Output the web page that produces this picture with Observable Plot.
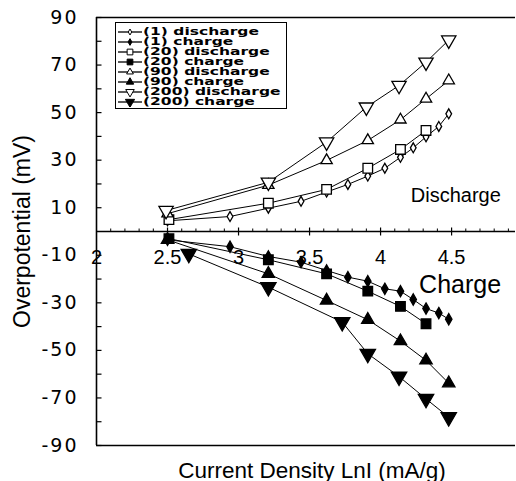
<!DOCTYPE html>
<html><head><meta charset="utf-8">
<script src="https://cdn.jsdelivr.net/npm/d3@7"></script>
<script src="https://cdn.jsdelivr.net/npm/@observablehq/plot@0.6"></script>
<style>
body{margin:0;background:#fff;}
#wrap{position:relative;width:516px;height:481px;}
g[aria-label="y-axis tick label"] text{font-family:"DejaVu Sans";letter-spacing:2px;}
#legend{position:absolute;left:115px;top:22px;width:172px;height:87px;border:1.5px solid #000;background:#fff;box-sizing:border-box;padding-top:4px;}
.row{height:10px;display:flex;align-items:center;white-space:nowrap;overflow:visible;}
.row svg{flex:none;margin-left:2px;}
.row span{font:bold 10px "DejaVu Sans";transform:scaleX(1.55);transform-origin:left center;display:inline-block;line-height:10px;}
</style></head>
<body><div id="wrap"></div>
<script>
// ---- data ----
const lnI_1   = [2.5, 2.94, 3.21, 3.44, 3.62, 3.77, 3.91, 4.03, 4.14, 4.23, 4.32, 4.41, 4.48];
const dis_1   = [4.5, 6.3, 9.8, 12.7, 16.6, 19.8, 23.3, 26.6, 31.2, 35.2, 39.8, 44.2, 49.5];
const chg_1   = [-3.5, -6.4, -10.5, -12.9, -16.4, -19.2, -20.9, -24.1, -25.1, -28.6, -32.4, -34.3, -36.9];

const lnI_20  = [2.51, 3.21, 3.62, 3.91, 4.14, 4.32];
const dis_20  = [5.0, 11.9, 17.7, 26.6, 34.5, 42.5];
const chg_20  = [-3.0, -11.9, -17.8, -25.1, -31.5, -38.8];

const lnI_90  = [2.5, 3.21, 3.62, 3.91, 4.14, 4.32, 4.48];
const dis_90  = [7.5, 19.5, 29.9, 38.3, 47.0, 55.8, 63.5];
const chg_90  = [-3.5, -17.8, -29.0, -37.1, -46.1, -54.2, -63.8];

const lnI_200d = [2.49, 3.21, 3.62, 3.90, 4.13, 4.32, 4.48];
const dis_200  = [8.8, 20.7, 37.6, 52.3, 61.4, 71.2, 80.5];
const lnI_200c = [2.65, 3.21, 3.73, 3.91, 4.13, 4.32, 4.48];
const chg_200  = [-9.4, -23.4, -38.1, -51.4, -61.0, -70.4, -78.1];

const legendNames = ["(1) discharge","(1) charge","(20) discharge","(20) charge",
                     "(90) discharge","(90) charge","(200) discharge","(200) charge"];
const xDomain = [2, 4.95];
const yDomain = [-90, 90];
const xTickLabels = [2, 2.5, 3, 3.5, 4, 4.5];
const xMajorTicks = [2.5, 3, 3.5, 4, 4.5];
const xMinorTicks = [2.1,2.2,2.3,2.4,2.6,2.7,2.8,2.9,3.1,3.2,3.3,3.4,3.6,3.7,3.8,3.9,4.1,4.2,4.3,4.4,4.6,4.7,4.8,4.9];
const yTickLabels = [90, 70, 50, 30, 10, -10, -30, -50, -70, -90];
const yTicks = [90,80,70,60,50,40,30,20,10,-10,-20,-30,-40,-50,-60,-70,-80,-90];
const xLabel = "Current Density LnI (mA/g)";
const yLabel = "Overpotential (mV)";
const noteDischarge = [{x: 4.53, y: 12.3, text: "Discharge"}];
const noteCharge = [{x: 4.56, y: -26, text: "Charge"}];

// ---- styles ----
const styles = [
  {symbol: "diamond",  fill: "white", r: 3.0, rotate: 0},
  {symbol: "diamond",  fill: "black", r: 3.4, rotate: 0},
  {symbol: "square",   fill: "white", r: 5.4, rotate: 0},
  {symbol: "square",   fill: "black", r: 5.4, rotate: 0},
  {symbol: "triangle", fill: "white", r: 4.2, rotate: 0},
  {symbol: "triangle", fill: "black", r: 4.6, rotate: 0},
  {symbol: "triangle", fill: "white", r: 5.3, rotate: 180},
  {symbol: "triangle", fill: "black", r: 5.7, rotate: 180}
];
const seriesData = [
  [lnI_1, dis_1], [lnI_1, chg_1], [lnI_20, dis_20], [lnI_20, chg_20],
  [lnI_90, dis_90], [lnI_90, chg_90], [lnI_200d, dis_200], [lnI_200c, chg_200]
];
const rowsOf = ([xs, ys]) => xs.map((x, i) => ({x, y: ys[i]}));

const tickCross = {draw(c){c.moveTo(0,-4);c.lineTo(0,4);}};
const tickUp = {draw(c){c.moveTo(0,-3);c.lineTo(0,0);}};
const tickRight = {draw(c){c.moveTo(0,0);c.lineTo(5,0);}};

const marks = [
  Plot.ruleY([yDomain[0], yDomain[1]], {stroke: "black", strokeWidth: 1.6}),
  Plot.ruleX([xDomain[0]], {stroke: "black", strokeWidth: 1.6}),
  Plot.ruleY([0], {stroke: "black", strokeWidth: 1.5}),
  Plot.dot(xMinorTicks, {x: d => d, y: 0, symbol: tickUp, stroke: "black", fill: "none", strokeWidth: 1}),
  Plot.dot(xMajorTicks, {x: d => d, y: 0, symbol: tickCross, stroke: "black", fill: "none", strokeWidth: 1.2}),
  Plot.dot(yTicks, {x: xDomain[0], y: d => d, symbol: tickRight, stroke: "black", fill: "none", strokeWidth: 1.2}),
  Plot.axisY({ticks: yTickLabels, tickSize: 0, tickPadding: 18, fontSize: 19, tickFormat: d => String(d), label: null}),
  Plot.text(xTickLabels, {x: d => d, y: 0, text: d => String(d), dy: 32, lineAnchor: "bottom", fontSize: 20}),
  Plot.text([xLabel], {frameAnchor: "bottom", textAnchor: "middle", dx: 6, dy: 32, lineAnchor: "bottom", fontSize: 22.5}),
  Plot.text([yLabel], {frameAnchor: "left", textAnchor: "middle", lineAnchor: "middle", dx: -74, rotate: -90, fontSize: 23}),
  Plot.text(noteDischarge, {x: "x", y: "y", text: "text", lineAnchor: "bottom", fontSize: 20}),
  Plot.text(noteCharge, {x: "x", y: "y", text: "text", lineAnchor: "bottom", fontSize: 25})
];
seriesData.forEach(s => marks.push(Plot.line(rowsOf(s), {x: "x", y: "y", stroke: "black", strokeWidth: 1})));
seriesData.forEach((s, i) => {
  const st = styles[i];
  marks.push(Plot.dot(rowsOf(s), {x: "x", y: "y", symbol: st.symbol, r: st.r, fill: st.fill,
    stroke: "black", strokeWidth: 1.3, rotate: st.rotate}));
});

const chart = Plot.plot({
  width: 516, height: 481,
  marginLeft: 96, marginRight: 1, marginTop: 17, marginBottom: 36,
  x: {domain: xDomain, axis: null},
  y: {domain: yDomain},
  style: {fontFamily: "'Liberation Sans', Arial, sans-serif", fontSize: "20px", color: "black", background: "white"},
  marks
});
const wrap = document.getElementById("wrap");
wrap.appendChild(chart);

// legend
const legend = document.createElement("div");
legend.id = "legend";
legendNames.forEach((name, i) => {
  const st = styles[i];
  const row = document.createElement("div");
  row.className = "row";
  const sym = {diamond: d3.symbolDiamond, square: d3.symbolSquare, triangle: d3.symbolTriangle}[st.symbol];
  const path = d3.symbol(sym, Math.PI * (st.r * 0.6) ** 2)();
  row.innerHTML = `<svg width="25" height="10"><line x1="0" x2="24" y1="5" y2="5" stroke="black" stroke-width="1.3"/>` +
    `<path d="${path}" transform="translate(12,5) rotate(${st.rotate})" fill="${st.fill}" stroke="black" stroke-width="1"/></svg>` +
    `<span>${name}</span>`;
  legend.appendChild(row);
});
wrap.appendChild(legend);
</script>
</body></html>
